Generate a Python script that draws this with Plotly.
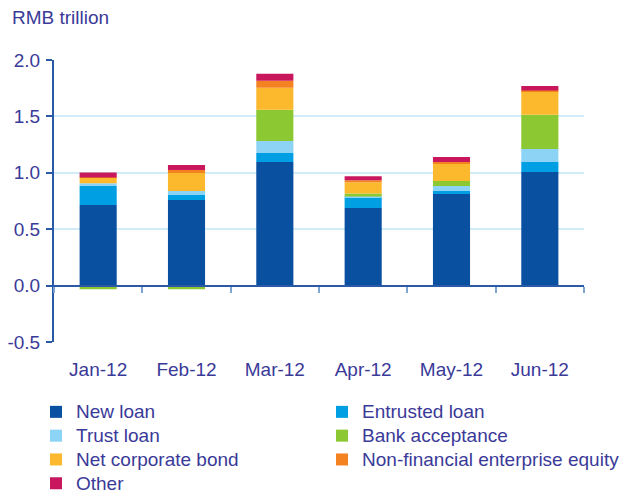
import plotly.graph_objects as go

months = ["Jan-12", "Feb-12", "Mar-12", "Apr-12", "May-12", "Jun-12"]
new_loan = [0.714, 0.758, 1.096, 0.687, 0.811, 1.007]
entrusted_loan = [0.170, 0.045, 0.080, 0.098, 0.027, 0.089]
trust_loan = [0.024, 0.035, 0.107, 0.005, 0.045, 0.116]
bank_acceptance = [-0.033, -0.033, 0.276, 0.027, 0.044, 0.302]
net_corporate_bond = [0.047, 0.160, 0.196, 0.099, 0.151, 0.207]
nonfin_equity = [0.004, 0.027, 0.062, 0.018, 0.018, 0.009]
other = [0.044, 0.044, 0.062, 0.035, 0.044, 0.040]

series = [
    ("New loan", new_loan, "#0a50a1", "legend"),
    ("Entrusted loan", entrusted_loan, "#009fe3", "legend2"),
    ("Trust loan", trust_loan, "#8dd3f5", "legend"),
    ("Bank acceptance", bank_acceptance, "#8cc832", "legend2"),
    ("Net corporate bond", net_corporate_bond, "#fdb92e", "legend"),
    ("Non-financial enterprise equity", nonfin_equity, "#f58220", "legend2"),
    ("Other", other, "#c8175d", "legend"),
]

text_color = "#3a3a98"
axis_color = "#2a5aa5"
grid_color = "#d2ebf8"
font_family = "Liberation Sans, Arial, sans-serif"

fig = go.Figure()
for name, vals, col, lg in series:
    fig.add_trace(go.Bar(
        x=months, y=vals,
        name='<span style="font-size:19px">' + name + '</span>',
        legend=lg,
        marker=dict(color=col, line=dict(width=0)),
    ))

legend_common = dict(
    orientation="v",
    yref="container", yanchor="top", y=0.2135,
    xref="paper", xanchor="left",
    font=dict(size=16, color=text_color, family=font_family),
    traceorder="normal",
    itemclick=False, itemdoubleclick=False,
    bgcolor="rgba(0,0,0,0)", borderwidth=0,
)

fig.update_layout(
    width=627, height=492,
    barmode="relative",
    bargap=0.58,
    plot_bgcolor="white", paper_bgcolor="white",
    margin=dict(l=46, r=51, t=52, b=158),
    font=dict(family=font_family, size=19, color=text_color),
    showlegend=True,
    legend=dict(x=-0.034, **legend_common),
    legend2=dict(x=0.5057, **legend_common),
    xaxis=dict(
        type="category",
        anchor="free", position=0.2,
        automargin=False,
        showline=True, linecolor=axis_color, linewidth=2,
        ticks="outside", tickson="boundaries", ticklen=6, tickcolor="#7da3d3", tickwidth=2,
        ticklabelstandoff=67,
        showgrid=False, zeroline=False,
        tickfont=dict(size=19, color=text_color),
    ),
    yaxis=dict(
        range=[-0.5, 2.0],
        automargin=False,
        tickvals=[-0.5, 0.0, 0.5, 1.0, 1.5, 2.0],
        ticktext=["-0.5", "0.0", "0.5", "1.0", "1.5", "2.0"],
        showline=True, linecolor=axis_color, linewidth=2,
        ticks="outside", ticklen=6, tickcolor=axis_color, tickwidth=2,
        ticklabelstandoff=2,
        showgrid=True, gridcolor=grid_color, gridwidth=2,
        zeroline=False,
        tickfont=dict(size=19, color=text_color),
    ),
    annotations=[dict(
        text="RMB trillion", xref="paper", yref="paper",
        x=-0.083, y=1.152, xanchor="left", yanchor="middle",
        showarrow=False, font=dict(size=19, color=text_color),
    )],
)

fig.write_html("out.html")
